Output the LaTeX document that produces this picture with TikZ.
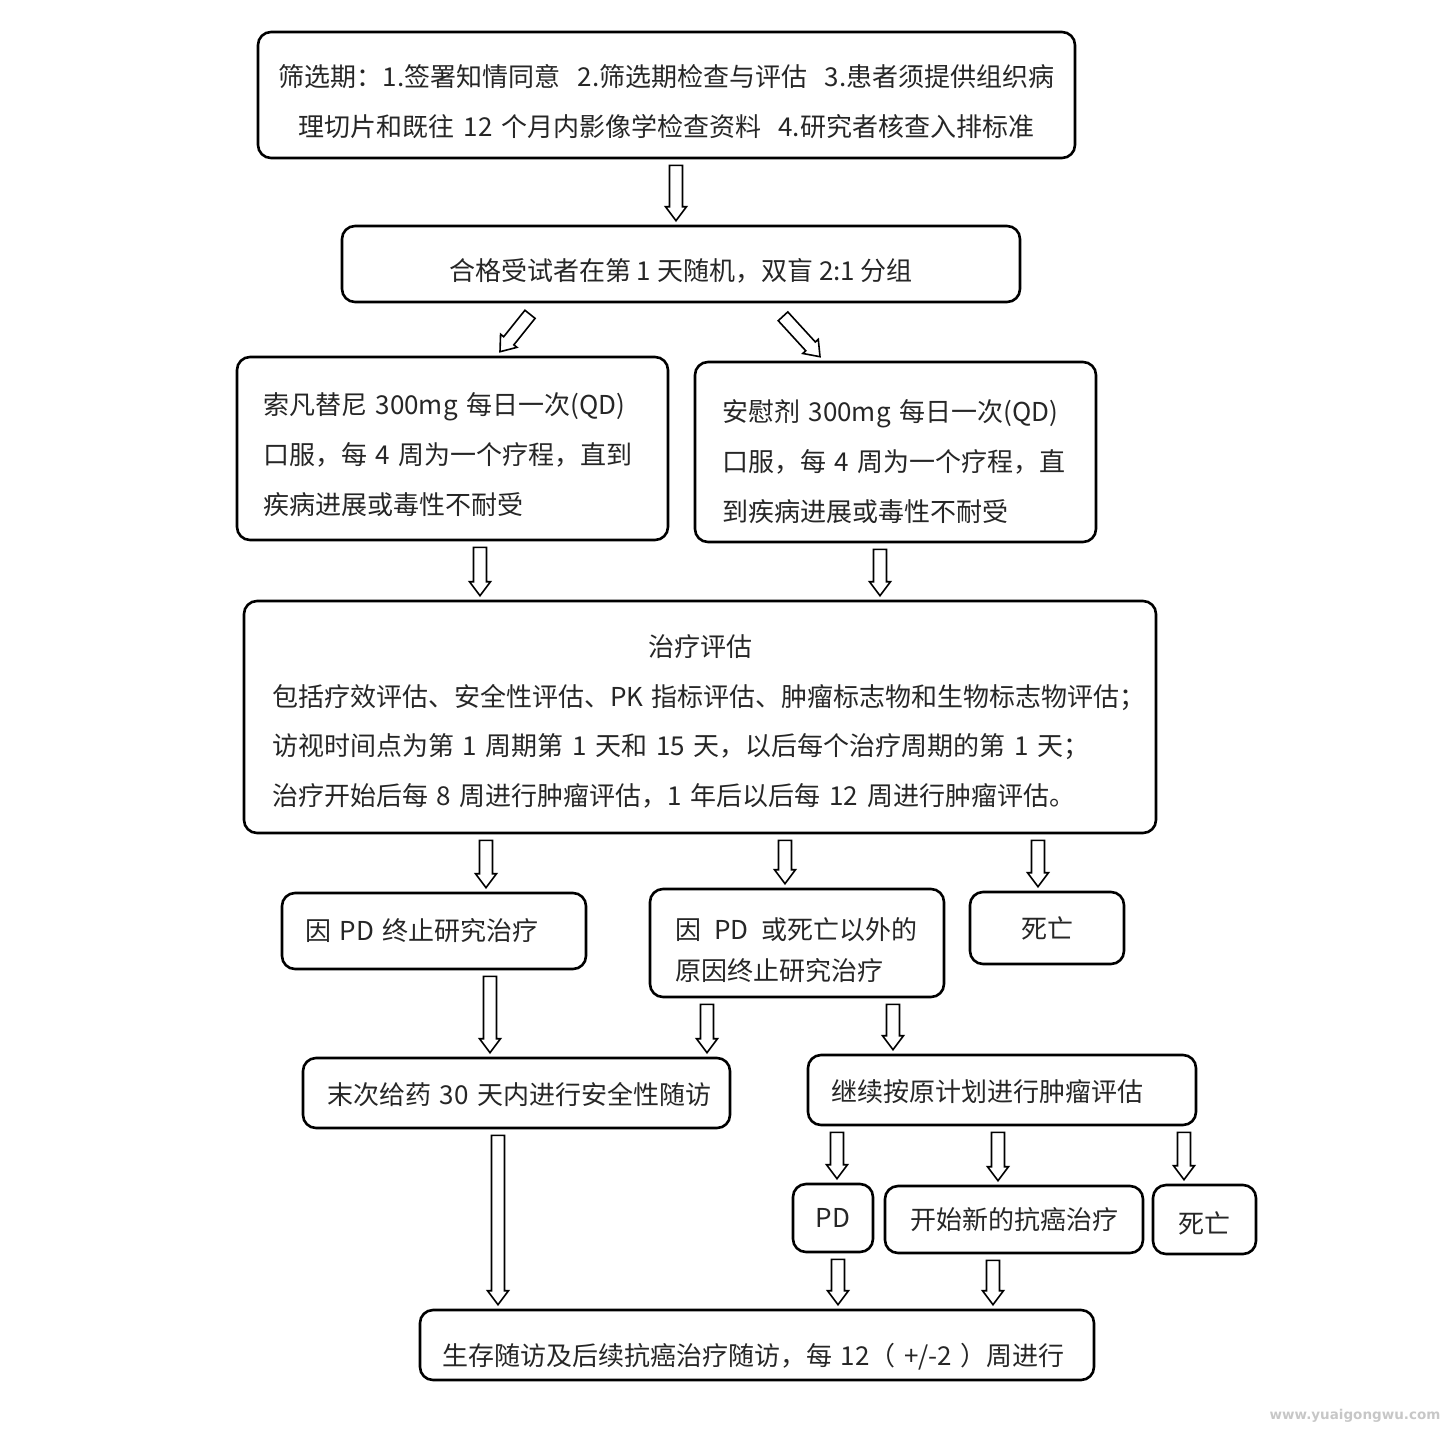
\documentclass[tikz,border=0pt]{standalone}
\usepackage{fontspec}
\newfontfamily\cjk{Noto Sans CJK SC}
\newfontfamily\wmfont{DejaVu Sans}
\usetikzlibrary{positioning,calc}

\tikzset{
  box/.style={draw=black,line width=2.6pt,rounded corners=13pt,inner ysep=0pt,text=black!85,font=\cjk\fontsize{26}{50}\selectfont},
  down/.style={text height=#1},
  hollow/.style={draw=black,line width=1.6pt,fill=white,line join=miter},
}
\newcommand{\shaftw}{6.5pt}
\newcommand{\headw}{10.5pt}
\newcommand{\headl}{14pt}
% hollow block arrow from #1 (tail) to #2 (tip)
\newcommand{\blockarrow}[2]{%
  \coordinate (ahead) at ($(#2)!\headl!(#1)$);
  \draw[hollow] ($(#1)!\shaftw!90:(#2)$) -- ($(ahead)!\shaftw!-90:(#1)$) -- ($(ahead)!\headw!-90:(#1)$) -- (#2)
    -- ($(ahead)!\headw!90:(#1)$) -- ($(ahead)!\shaftw!90:(#1)$) -- ($(#1)!\shaftw!-90:(#2)$) -- cycle;}
% vertical block arrow at x=#1 from node #2 down to node #3
\newcommand{\vblock}[3]{%
  \coordinate (atail) at ($(#2.south -| #1,0)+(0,6)$);
  \coordinate (atip) at ($(#3.north -| #1,0)+(0,-4)$);
  \blockarrow{atail}{atip}}

\begin{document}
\begin{tikzpicture}[x=1pt,y=-1pt]
\useasboundingbox (0,0) rectangle (1448,1428);
\node[box,down=36pt,minimum height=126pt,text width=801pt,inner xsep=8pt,align=center] (screen) at (666.5,95) {筛选期：1.签署知情同意~~2.筛选期检查与评估~~3.患者须提供组织病\\理切片和既往~12~个月内影像学检查资料~~4.研究者核查入排标准};
\node[box,down=35pt,minimum width=678pt,minimum height=76pt] (random) at (681,264) {合格受试者在第~1~天随机，双盲~2:1~分组};
\node[box,down=35pt,minimum height=183pt,text width=379pt,inner xsep=26pt,align=left] (drug) at (452.5,448.5) {索凡替尼~300mg~每日一次(QD)\\口服，每~4~周为一个疗程，直到\\疾病进展或毒性不耐受};
\node[box,down=41pt,minimum height=180pt,text width=347pt,inner xsep=27pt,align=left] (placebo) at (895.5,452) {安慰剂~300mg~每日一次(QD)\\口服，每~4~周为一个疗程，直\\到疾病进展或毒性不耐受};
\node[box,down=31pt,minimum height=232pt,text width=856pt,inner xsep=28pt,align=left,font=\cjk\fontsize{26}{49.5}\selectfont] (eval) at (700,717) {\makebox[\hsize][c]{治疗评估}\\包括疗效评估、安全性评估、PK~指标评估、肿瘤标志物和生物标志物评估；\\访视时间点为第~1~周期第~1~天和~15~天，以后每个治疗周期的第~1~天；\\治疗开始后每~8~周进行肿瘤评估，1~年后以后每~12~周进行肿瘤评估。};
\node[box,minimum height=76pt,text width=258pt,inner xsep=23pt,align=left] (pd1) at (434,931) {因~PD~终止研究治疗};
\node[box,down=37pt,minimum height=108pt,text width=244pt,inner xsep=25pt,align=left,font=\cjk\fontsize{26}{41}\selectfont] (other) at (797,943) {因\enspace PD\enspace 或死亡以外的\\原因终止研究治疗};
\node[box,minimum width=154pt,minimum height=72pt] (death1) at (1047,928) {死亡};
\node[box,down=25pt,minimum height=70pt,text width=379pt,inner xsep=24pt,align=left] (safety) at (516.5,1093) {末次给药~30~天内进行安全性随访};
\node[box,down=25pt,minimum height=70pt,text width=342pt,inner xsep=23pt,align=left] (cont) at (1002,1090) {继续按原计划进行肿瘤评估};
\node[box,minimum width=80pt,minimum height=68pt] (pdbox) at (833,1218) {PD};
\node[box,minimum width=258pt,minimum height=67pt] (newtx) at (1014,1219.5) {开始新的抗癌治疗};
\node[box,down=29pt,minimum width=103pt,minimum height=69pt] (death2) at (1204.5,1219.5) {死亡};
\node[box,down=45pt,minimum height=70pt,text width=630pt,inner xsep=22pt,align=left] (survival) at (757,1345) {生存随访及后续抗癌治疗随访，每~12（~+/-2~）周进行};
\node[text=black!22,font=\wmfont\bfseries\fontsize{13.5}{15}\selectfont] (wm) at (1355,1416) {www.yuaigongwu.com};

\vblock{676}{screen}{random}
\coordinate (dl1) at ($(random.south)+(-151,11)$);
\coordinate (dl2) at ($(drug.north)+(47.5,-4)$);
\blockarrow{dl1}{dl2}
\coordinate (dr1) at ($(random.south)+(102,13)$);
\coordinate (dr2) at ($(placebo.north)+(-75.5,-4)$);
\blockarrow{dr1}{dr2}
\vblock{480}{drug}{eval}
\vblock{880}{placebo}{eval}
\vblock{486}{eval}{pd1}
\vblock{785}{eval}{other}
\vblock{1038}{eval}{death1}
\vblock{490}{pd1}{safety}
\vblock{707}{other}{safety}
\vblock{893}{other}{cont}
\vblock{498}{safety}{survival}
\vblock{837}{cont}{pdbox}
\vblock{998}{cont}{newtx}
\vblock{1184}{cont}{death2}
\vblock{838}{pdbox}{survival}
\vblock{993}{newtx}{survival}
\end{tikzpicture}
\end{document}
